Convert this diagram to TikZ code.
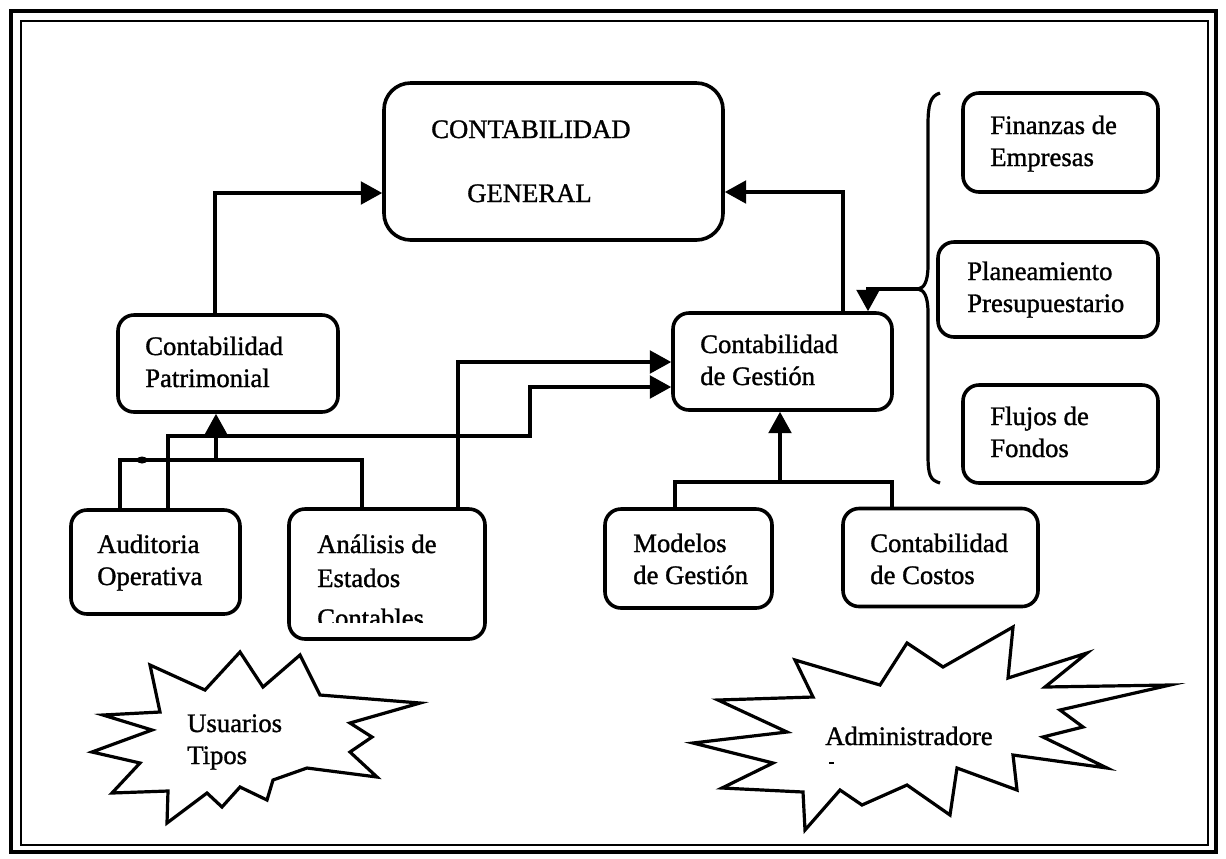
\documentclass[tikz,border=0pt]{standalone}
\usepackage{fontspec}
\setmainfont{Liberation Serif}
\newfontfamily\scanfont{Liberation Serif}[FakeBold=1.2]
\usetikzlibrary{arrows.meta}
\begin{document}
\begin{tikzpicture}[x=0.75pt,y=-0.75pt,
  box/.style={draw,line width=2.7pt,rounded corners=12pt,inner sep=0pt,anchor=center},
  bigbox/.style={box,rounded corners=20pt},
  txt/.style={font=\scanfont\fontsize{20}{24}\selectfont,anchor=base west,inner sep=0pt},
  conn/.style={line width=2.4pt},
  arr/.style={conn,-{Triangle[length=16pt,width=17pt]}},
  star/.style={line width=2.4pt,line join=miter}]
\useasboundingbox (0,0) rectangle (1226,858);
% frame
\draw[line width=3.2pt] (11,11) rectangle (1216,852);
\draw[line width=2.2pt] (21,21) rectangle (1208,845);
% boxes
\node[bigbox,minimum width=254.25pt,minimum height=117.75pt] (gen) at (553.5,161.5) {};
\node[box,minimum width=165pt,minimum height=72.75pt] (pat) at (228,363.5) {};
\node[box,minimum width=164.25pt,minimum height=72.75pt] (ges) at (782.5,361.5) {};
\node[box,minimum width=146.25pt,minimum height=74.25pt] (fin) at (1060.5,142.5) {};
\node[box,minimum width=165pt,minimum height=71.25pt] (pla) at (1048,289.5) {};
\node[box,minimum width=146.25pt,minimum height=73.5pt] (flu) at (1060.5,434) {};
\node[box,minimum width=126.75pt,minimum height=78pt] (aud) at (155.5,562) {};
\node[box,minimum width=147pt,minimum height=97.5pt] (ana) at (387,574) {};
\node[box,minimum width=125.25pt,minimum height=74.25pt] (mod) at (688.5,558.5) {};
\node[box,minimum width=146.25pt,minimum height=73.5pt] (cos) at (940.5,557.5) {};
% texts
\node[txt] (t1) at (431,138) {CONTABILIDAD};
\node[txt] (t2) at (467,202) {GENERAL};
\node[txt] (t3) at (145,355) {Contabilidad};
\node[txt] (t4) at (145,387) {Patrimonial};
\node[txt] (t5) at (700,353) {Contabilidad};
\node[txt] (t6) at (700,385) {de Gestión};
\node[txt] (t7) at (990,134) {Finanzas de};
\node[txt] (t8) at (990,166) {Empresas};
\node[txt] (t9) at (967,280) {Planeamiento};
\node[txt] (t10) at (967,312) {Presupuestario};
\node[txt] (t11) at (990,425) {Flujos de};
\node[txt] (t12) at (990,457) {Fondos};
\node[txt] (t13) at (97,553) {Auditoria};
\node[txt] (t14) at (97,585) {Operativa};
\node[txt] (t15) at (317,553) {Análisis de};
\node[txt] (t16) at (317,587) {Estados};
\begin{scope}
\clip (280,590) rectangle (490,622);
\node[txt] (t17) at (317,627) {Contables};
\end{scope}
\node[txt] (t18) at (633,552) {Modelos};
\node[txt] (t19) at (633,584) {de Gestión};
\node[txt] (t20) at (870,552) {Contabilidad};
\node[txt] (t21) at (870,584) {de Costos};
% coordinates
\coordinate (c1) at (215,193);
\coordinate (c2) at (843,192);
\coordinate (bt) at (918,289);
\coordinate (c3) at (868,289);
\coordinate (c4) at (216,460);
\coordinate (c5) at (120,460);
\coordinate (c6) at (362,460);
\coordinate (c7) at (168,436);
\coordinate (c8) at (530,436);
\coordinate (c9) at (530,387);
\coordinate (c10) at (458,362);
\coordinate (c11) at (675,482);
\coordinate (c12) at (892,482);
\coordinate (c13) at (780,482);
% connectors
\draw[arr] (pat.north -| c1) -- (c1) -- (c1 -| gen.west);
\draw[arr] (ges.north -| c2) -- (c2) -- (c2 -| gen.east);
\draw[arr] (bt) -- (c3) -- (c3 |- ges.north);
\draw[conn] (940,93) .. controls (930,96) and (928,105) .. (928,125) -- (928,265)
  .. controls (928,282) and (924,288) .. (bt)
  .. controls (924,290) and (928,296) .. (928,313) -- (928,455)
  .. controls (928,475) and (930,480) .. (940,483);
\draw[arr] (c4) -- (c4 |- pat.south);
\draw[conn] (aud.north -| c5) -- (c5) -- (c6) -- (ana.north -| c6);
\fill (142,460) ellipse (5.5 and 3.5);
\draw[arr] (aud.north -| c7) -- (c7) -- (c8) -- (c9) -- (c9 -| ges.west);
\draw[arr] (ana.north -| c10) -- (c10) -- (c10 -| ges.west);
\draw[conn] (mod.north -| c11) -- (c11) -- (c12) -- (cos.north -| c12);
\draw[arr] (c13) -- (c13 |- ges.south);
% stars
\draw[star] (103,715) -- (160,712) -- (150,665) -- (205,690) -- (240,652) -- (263,687)
  -- (300,655) -- (320,695) -- (420,703) -- (350,723) -- (372,737) -- (350,752)
  -- (377,777) -- (307,768) -- (273,780) -- (267,800) -- (240,787) -- (222,807)
  -- (207,793) -- (167,823) -- (168,791) -- (112,793) -- (140,763) -- (92,752)
  -- (152,730) -- cycle;
\node[txt] (t22) at (187,732) {Usuarios};
\node[txt] (t23) at (187,764) {Tipos};
\draw[star] (795,660) -- (880,685) -- (907,643) -- (943,667) -- (1013,627) -- (1008,678)
  -- (1087,653) -- (1045,687) -- (1170,685) -- (1060,710) -- (1083,727) -- (1043,737)
  -- (1107,768) -- (1013,755) -- (1017,790) -- (957,768) -- (950,815) -- (907,785)
  -- (862,805) -- (840,790) -- (805,830) -- (803,792) -- (722,788) -- (773,763)
  -- (693,743) -- (787,732) -- (718,700) -- (813,697) -- cycle;
\node[txt] (t24) at (825,745) {Administradore};
\draw[line width=0.9pt] (829,763) -- (834,763);
\end{tikzpicture}
\end{document}
